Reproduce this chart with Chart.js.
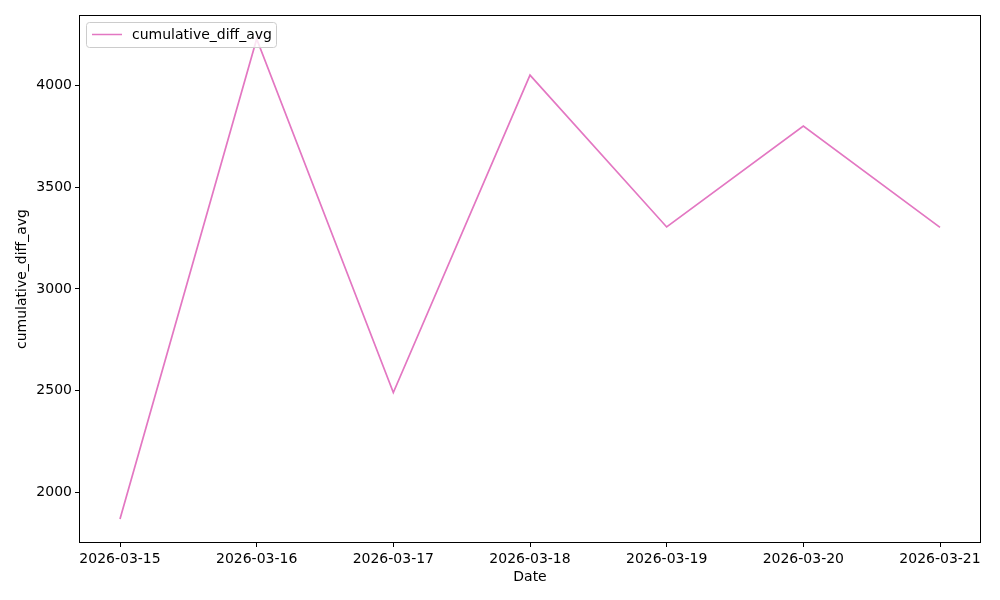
<!DOCTYPE html>
<html><head><meta charset="utf-8">
<script src="https://cdn.jsdelivr.net/npm/chart.js@4.4.1/dist/chart.umd.min.js"></script>
<style>html,body{margin:0;padding:0;background:#fff}#wrap{width:1000px;height:600px}</style>
</head><body><div id="wrap"><canvas id="c" width="1000" height="600"></canvas></div>
<script>
const dates = ["2026-03-15","2026-03-16","2026-03-17","2026-03-18","2026-03-19","2026-03-20","2026-03-21"];
const values = [1868, 4230, 2490, 4052, 3305, 3802, 3303];
const yTicks = [2000, 2500, 3000, 3500, 4000];
const seriesName = "cumulative_diff_avg";
const xTitle = "Date";
const lineColor = "#e377c2";
const FONT = "'DejaVu Sans', sans-serif";

const pts = values.map((v,i)=>({x:i,y:v}));
const dmin = Math.min(...values), dmax = Math.max(...values), pad = (dmax-dmin)*0.05;

const framePlugin = {
  id:'frame',
  afterDraw(chart){
    const {ctx, chartArea:a} = chart;
    ctx.save();
    ctx.strokeStyle='#000'; ctx.lineWidth=1;
    ctx.strokeRect(Math.round(a.left)+0.5, Math.round(a.top)+0.5, Math.round(a.right-a.left)-1, Math.round(a.bottom-a.top)-1);
    // axis titles
    ctx.fillStyle='#000'; ctx.font='14px '+FONT; ctx.textAlign='center'; ctx.textBaseline='middle';
    ctx.fillText(xTitle, (a.left+a.right)/2, 577);
    ctx.save(); ctx.translate(22,(a.top+a.bottom)/2); ctx.rotate(-Math.PI/2);
    ctx.fillText(seriesName,0,0); ctx.restore();
    // legend
    const x0=a.left+7, y0=a.top+7, w=190, h=25, r=3;
    ctx.fillStyle='rgba(255,255,255,0.8)'; ctx.strokeStyle='#cccccc';
    ctx.beginPath(); ctx.roundRect(x0+0.5,y0+0.5,w,h,r); ctx.fill(); ctx.stroke();
    ctx.strokeStyle=lineColor; ctx.lineWidth=1.5;
    ctx.beginPath(); ctx.moveTo(x0+6,y0+12.5); ctx.lineTo(x0+36,y0+12.5); ctx.stroke();
    ctx.fillStyle='#000'; ctx.font='14px '+FONT; ctx.textBaseline='middle'; ctx.textAlign='left';
    ctx.fillText(seriesName, x0+46, y0+13);
    ctx.restore();
  }
};

new Chart(document.getElementById('c'), {
  type:'line',
  data:{datasets:[{label:seriesName,data:pts,borderColor:lineColor,borderWidth:1.7,pointRadius:0,tension:0,fill:false}]},
  options:{
    responsive:false, animation:false,
    layout:{padding:{left:0,right:19,top:15,bottom:0}},
    plugins:{legend:{display:false},tooltip:{enabled:false}},
    scales:{
      x:{type:'linear',min:-0.3,max:6.3,
        afterBuildTicks(s){s.ticks=dates.map((d,i)=>({value:i}));},
        afterFit(s){s.height=57;},
        ticks:{callback:(v)=>dates[v]??'',color:'#000',font:{family:FONT,size:14},padding:4,maxRotation:0,autoSkip:false},
        grid:{drawOnChartArea:false,drawTicks:true,tickLength:4,color:'#000'},
        border:{display:false},
        title:{display:false}
      },
      y:{type:'linear',min:dmin-pad,max:dmax+pad,
        afterBuildTicks(s){s.ticks=yTicks.map(v=>({value:v}));},
        afterFit(s){s.width=79;},
        ticks:{callback:(v)=>String(v),color:'#000',font:{family:FONT,size:14},padding:3},
        grid:{drawOnChartArea:false,drawTicks:true,tickLength:4,color:'#000'},
        border:{display:false},
        title:{display:false}
      }
    }
  },
  plugins:[framePlugin]
});
</script></body></html>
